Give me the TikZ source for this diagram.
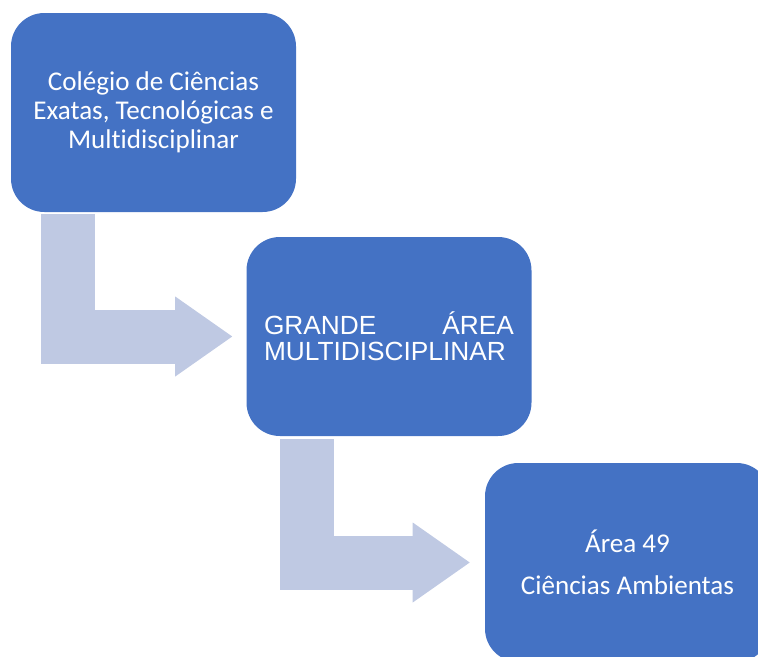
\documentclass[tikz,border=0pt]{standalone}
\usepackage{fontspec}
\setmainfont{Carlito}[Ligatures=NoCommon]
\newfontfamily\arialfont{Liberation Sans}
\usepackage{tikz}
\usetikzlibrary{arrows.meta}
\definecolor{boxblue}{RGB}{68,114,196}
\definecolor{bendblue}{RGB}{191,201,227}
\tikzstyle{block} = [rectangle, fill=boxblue, text=white,
    minimum width=213.75pt, minimum height=149.25pt, rounded corners=25pt,
    align=center, font=\fontsize{20.3}{21.75}\selectfont]
\tikzstyle{focus} = [block, align=justify, text width=187.5pt,
    font=\arialfont\fontsize{19.7}{19.5}\selectfont]
\tikzstyle{line} = [draw=bendblue, line width=40.5pt, line join=miter,
    -{Triangle[width=60pt, length=42.75pt, line width=0pt]}]

\begin{document}
\begin{tikzpicture}[x=0.75pt, y=-0.75pt]
                \useasboundingbox (0,0) rectangle (758,657);
                \node [block] at (153.5,112.5) (colegio) {Colégio de Ciências\\Exatas, Tecnológicas e\\Multidisciplinar};
                \node [focus] at (389,336.5) (grande) {GRANDE ÁREA\linebreak MULTIDISCIPLINAR};
                \node [block] at (627.5,562.5) (area) {Área 49\\[9.75pt]Ciências Ambientas};
                \path [line, shorten >=10.5pt] ([xshift=42.75pt, yshift=-1.5pt]colegio.south west) |- (grande.west);
                \path [line, shorten >=11.25pt] ([xshift=45.4pt, yshift=-2.25pt]grande.south west) |- (area.west);
            \end{tikzpicture}
\end{document}
